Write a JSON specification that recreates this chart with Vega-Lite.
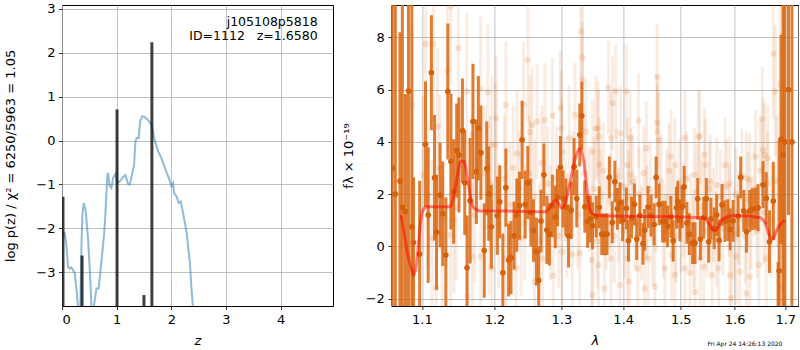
{
"$schema": "https://vega.github.io/schema/vega-lite/v6.json",
"padding": {"left": 4, "top": 2, "right": 0, "bottom": 0},
"config": {
 "font": "DejaVu Sans",
 "view": {"stroke": "black", "strokeWidth": 1},
 "axis": {"labelFont": "DejaVu Sans", "labelFontSize": 13, "labelColor": "black", "tickColor": "black", "tickSize": 3.5, "tickWidth": 0.8, "domain": false, "gridColor": "#b0b0b0", "gridWidth": 0.8, "titleFont": "DejaVu Sans", "titleFontSize": 13, "titleFontWeight": "normal", "titleColor": "black", "labelPadding": 3.5}
},
"datasets": {
 "pz": [
  {"z":0.035,"y":-2.2},{"z":0.045,"y":-2.08},{"z":0.08,"y":-2.37},{"z":0.11,"y":-2.87},{"z":0.141,"y":-2.92},{"z":0.172,"y":-2.89},{"z":0.2,"y":-2.95},{"z":0.233,"y":-3.02},{"z":0.263,"y":-3.37},{"z":0.293,"y":-3.78},{"z":0.31,"y":-6},{"z":0.33,"y":-6},{"z":0.337,"y":-3.77},{"z":0.355,"y":-2.45},{"z":0.373,"y":-1.69},{"z":0.397,"y":-1.42},{"z":0.434,"y":-1.61},{"z":0.476,"y":-2.22},{"z":0.52,"y":-3.21},{"z":0.538,"y":-3.77},{"z":0.555,"y":-6},{"z":0.575,"y":-6},{"z":0.586,"y":-3.76},{"z":0.63,"y":-3.37},{"z":0.672,"y":-3.37},{"z":0.721,"y":-2.76},{"z":0.77,"y":-2.15},{"z":0.794,"y":-1.69},{"z":0.831,"y":-0.78},{"z":0.843,"y":-0.74},{"z":0.874,"y":-1.04},{"z":0.904,"y":-1.08},{"z":0.935,"y":-0.85},{"z":0.977,"y":-0.76},{"z":1.014,"y":-0.97},{"z":1.057,"y":-0.93},{"z":1.118,"y":-0.83},{"z":1.16,"y":-0.79},{"z":1.209,"y":-0.99},{"z":1.24,"y":-1.0},{"z":1.282,"y":-0.78},{"z":1.319,"y":-0.55},{"z":1.344,"y":-0.02},{"z":1.368,"y":0.06},{"z":1.405,"y":0.06},{"z":1.429,"y":0.44},{"z":1.465,"y":0.55},{"z":1.502,"y":0.55},{"z":1.564,"y":0.48},{"z":1.637,"y":0.37},{"z":1.685,"y":0.06},{"z":1.758,"y":-0.24},{"z":1.82,"y":-0.4},{"z":1.894,"y":-0.66},{"z":1.954,"y":-0.85},{"z":2.004,"y":-1.04},{"z":2.033,"y":-0.97},{"z":2.051,"y":-1.2},{"z":2.095,"y":-1.27},{"z":2.137,"y":-1.42},{"z":2.174,"y":-1.39},{"z":2.216,"y":-1.65},{"z":2.278,"y":-2.07},{"z":2.339,"y":-2.76},{"z":2.37,"y":-3.37},{"z":2.394,"y":-3.76},{"z":2.42,"y":-6}
 ],
 "bars": [{"z":0.018,"y":-1.28},{"z":0.367,"y":-2.62},{"z":1.007,"y":0.71},{"z":1.5,"y":-3.52},{"z":1.645,"y":2.24}],
 "lab": [{"z":4.678,"y":2.71,"t":"j105108p5818"},{"z":4.678,"y":2.38,"t":"ID=1112\u00a0\u00a0\u00a0z=1.6580"}],
 "main": [
  {"l":1.0615,"f":3,"e":12},{"l":1.0655,"f":2,"e":10},{"l":1.0714,"f":2.5,"e":5.7},{"l":1.0745,"f":1.5,"e":8},
  {"l":1.0785,"f":1.33,"e":4.5},{"l":1.0824,"f":5.95,"e":9},{"l":1.0868,"f":0.75,"e":9},{"l":1.089,"f":0.15,"e":2.5},{"l":1.097,"f":-0.29,"e":2.8},
  {"l":1.1047,"f":3.91,"e":2.4},{"l":1.1083,"f":1.2,"e":2.6},{"l":1.1125,"f":6.65,"e":2.2},{"l":1.1167,"f":2.63,"e":2.4},{"l":1.1194,"f":0.54,"e":2.2},{"l":1.1242,"f":1.97,"e":2.0},{"l":1.1278,"f":1.25,"e":2.0},{"l":1.132,"f":-0.33,"e":2.2},{"l":1.1347,"f":5.93,"e":2.6},{"l":1.1389,"f":3.25,"e":2.6},{"l":1.1426,"f":2.1,"e":2.0},{"l":1.1468,"f":3.67,"e":1.8},{"l":1.15,"f":3.5,"e":2.2},{"l":1.1547,"f":4.43,"e":2.0},{"l":1.1579,"f":2.44,"e":2.0},{"l":1.1611,"f":-0.82,"e":2.0},{"l":1.1653,"f":1.75,"e":2.4},{"l":1.1694,"f":4.78,"e":2.2},{"l":1.1742,"f":2.86,"e":2.0},{"l":1.1769,"f":4.52,"e":2.0},{"l":1.1806,"f":3.59,"e":1.8},{"l":1.1853,"f":-0.16,"e":1.8},{"l":1.1889,"f":2.98,"e":1.8},{"l":1.1917,"f":2.02,"e":1.8},{"l":1.1954,"f":0.75,"e":1.6},
  {"l":1.204,"f":1.18,"e":1.5},{"l":1.2075,"f":1.71,"e":1.4},{"l":1.212,"f":-1.01,"e":1.5},{"l":1.2164,"f":2.25,"e":1.5},{"l":1.2204,"f":-0.52,"e":1.4},{"l":1.2239,"f":-0.43,"e":1.4},{"l":1.2284,"f":0.41,"e":1.3},{"l":1.2324,"f":1.2,"e":1.4},{"l":1.2364,"f":1.56,"e":1.3},{"l":1.2403,"f":4.08,"e":1.5},{"l":1.2448,"f":1.6,"e":1.3},{"l":1.2488,"f":2.44,"e":1.4},{"l":1.2533,"f":1.3,"e":1.3},{"l":1.2573,"f":0.61,"e":1.2},{"l":1.2618,"f":-0.2,"e":1.3},{"l":1.2652,"f":-1.3,"e":1.3},{"l":1.2687,"f":0.97,"e":1.2},{"l":1.2731,"f":2.74,"e":1.2},{"l":1.2776,"f":0.63,"e":1.3},{"l":1.2816,"f":0.47,"e":1.2},{"l":1.2861,"f":1.55,"e":1.2},{"l":1.2906,"f":1.13,"e":1.2},{"l":1.294,"f":1.87,"e":1.1},{"l":1.2985,"f":3.03,"e":1.2},{"l":1.3027,"f":1.82,"e":1.1},{"l":1.307,"f":1.5,"e":1.1},{"l":1.3113,"f":0.4,"e":1.2},{"l":1.3156,"f":1.38,"e":1.1},{"l":1.32,"f":3.05,"e":1.1},{"l":1.3242,"f":1.83,"e":1.1},{"l":1.329,"f":4.27,"e":1.2},{"l":1.3323,"f":5.0,"e":1.3},{"l":1.3371,"f":1.52,"e":1.0},{"l":1.3415,"f":0.95,"e":1.0},{"l":1.3458,"f":1.05,"e":0.9},{"l":1.3495,"f":0.79,"e":0.9},
  {"l":1.3555,"f":1.14,"e":0.8},{"l":1.3603,"f":1.5,"e":0.8},{"l":1.3645,"f":0.47,"e":0.8},{"l":1.3689,"f":0.46,"e":0.8},{"l":1.3732,"f":0.47,"e":0.8},{"l":1.3769,"f":2.64,"e":0.8},{"l":1.3818,"f":0.92,"e":0.8},{"l":1.3861,"f":2.48,"e":0.8},{"l":1.3903,"f":1.44,"e":0.8},{"l":1.3947,"f":1.66,"e":0.8},{"l":1.399,"f":1.0,"e":0.8},{"l":1.4053,"f":1.46,"e":0.8},{"l":1.4088,"f":0.22,"e":0.8},{"l":1.414,"f":1.1,"e":0.8},{"l":1.4189,"f":1.61,"e":0.8},{"l":1.4229,"f":0.28,"e":0.8},{"l":1.4282,"f":1.18,"e":0.8},{"l":1.4335,"f":0.1,"e":0.8},{"l":1.4365,"f":0.63,"e":0.8},{"l":1.4423,"f":1.51,"e":0.8},{"l":1.4476,"f":1.18,"e":0.8},{"l":1.4529,"f":0.84,"e":0.8},{"l":1.4564,"f":2.64,"e":0.8},{"l":1.4617,"f":1.61,"e":0.8},{"l":1.4677,"f":0.95,"e":0.8},{"l":1.4723,"f":0.95,"e":0.8},{"l":1.4765,"f":0.77,"e":0.8},{"l":1.4823,"f":1.13,"e":0.8},{"l":1.4864,"f":0.22,"e":0.8},{"l":1.4924,"f":1.48,"e":0.8},{"l":1.4947,"f":1.71,"e":0.8},{"l":1.4985,"f":1.0,"e":0.8},{"l":1.5024,"f":1.51,"e":0.8},{"l":1.5061,"f":2.28,"e":0.8},{"l":1.511,"f":0.9,"e":0.8},{"l":1.5153,"f":0.47,"e":0.8},{"l":1.5215,"f":0.13,"e":0.8},{"l":1.5258,"f":0.13,"e":0.8},{"l":1.5308,"f":1.82,"e":0.8},{"l":1.5356,"f":0.28,"e":0.8},{"l":1.5418,"f":1.1,"e":0.8},{"l":1.5466,"f":1.82,"e":0.8},{"l":1.551,"f":0.18,"e":0.8},{"l":1.5552,"f":1.06,"e":0.8},{"l":1.5613,"f":0.69,"e":0.8},{"l":1.566,"f":1.2,"e":0.8},{"l":1.5705,"f":0.23,"e":0.8},{"l":1.576,"f":1.59,"e":0.8},{"l":1.5816,"f":0.97,"e":0.8},{"l":1.5871,"f":1.01,"e":0.8},{"l":1.5915,"f":0.65,"e":0.8},{"l":1.597,"f":0.98,"e":0.8},{"l":1.6066,"f":1.16,"e":0.8},{"l":1.6117,"f":2.64,"e":0.8},{"l":1.6175,"f":1.36,"e":0.8},{"l":1.6228,"f":0.56,"e":0.8},{"l":1.6292,"f":1.36,"e":0.8},{"l":1.6344,"f":1.43,"e":0.8},{"l":1.6403,"f":1.45,"e":0.8},{"l":1.6455,"f":1.48,"e":0.9},{"l":1.6552,"f":2.36,"e":0.9},{"l":1.6617,"f":1.84,"e":1.0},{"l":1.6681,"f":0.18,"e":1.2},{"l":1.6759,"f":1.74,"e":1.5},{"l":1.6876,"f":-0.93,"e":5},{"l":1.6915,"f":4.1,"e":4},
  {"l":1.6855,"f":-3.0,"e":2.4},{"l":1.6955,"f":3.5,"e":6},{"l":1.699,"f":4,"e":12},{"l":1.7066,"f":6,"e":4.8},{"l":1.7137,"f":4,"e":12}
 ],
 "faint": [
  {"l":1.0873,"f":5.42,"e":3},{"l":1.1014,"f":2.74,"e":3},{"l":1.1051,"f":7.75,"e":3},{"l":1.1135,"f":0.31,"e":3},{"l":1.1153,"f":7.75,"e":3},{"l":1.119,"f":-1.58,"e":3},{"l":1.1208,"f":4.59,"e":3},{"l":1.127,"f":-0.08,"e":2.8},{"l":1.1339,"f":6.72,"e":3},{"l":1.1385,"f":9.18,"e":3},{"l":1.1385,"f":0.44,"e":2.8},{"l":1.143,"f":1.01,"e":2.8},{"l":1.149,"f":7.59,"e":3},{"l":1.1607,"f":5.93,"e":3},{"l":1.1617,"f":-1.89,"e":2.8},{"l":1.1685,"f":4.27,"e":2.8},{"l":1.1685,"f":-0.39,"e":2.8},{"l":1.1801,"f":6.03,"e":2.8},{"l":1.1801,"f":-0.39,"e":2.6},{"l":1.1903,"f":5.9,"e":2.6},{"l":1.1917,"f":0.75,"e":2.6},{"l":1.194,"f":2.41,"e":2.6},{"l":1.1964,"f":3.89,"e":2.6},{"l":1.1964,"f":-0.84,"e":2.6},{"l":1.2015,"f":3.89,"e":2.4},{"l":1.2025,"f":4.9,"e":2.4},{"l":1.2164,"f":5.42,"e":2.4},{"l":1.2164,"f":-0.46,"e":2.4},{"l":1.2313,"f":-0.84,"e":2.4},{"l":1.2328,"f":3.56,"e":2.4},{"l":1.2388,"f":0.31,"e":2.2},{"l":1.2424,"f":5.42,"e":2.4},{"l":1.2488,"f":7.14,"e":2.4},{"l":1.2522,"f":4.37,"e":2.2},{"l":1.2552,"f":4.65,"e":2.2},{"l":1.2588,"f":-1.35,"e":2.2},{"l":1.2627,"f":4.78,"e":2.2},{"l":1.2712,"f":-0.46,"e":2.2},{"l":1.2746,"f":4.84,"e":2.2},{"l":1.2861,"f":5.0,"e":2.2},{"l":1.2876,"f":-1.12,"e":2.2},{"l":1.2985,"f":5.31,"e":2.2},{"l":1.3,"f":4.52,"e":2.2},{"l":1.3011,"f":3.63,"e":2},{"l":1.3011,"f":-0.2,"e":2},{"l":1.312,"f":4.14,"e":2},{"l":1.3172,"f":-0.31,"e":2},{"l":1.3216,"f":5.03,"e":2},{"l":1.329,"f":-0.27,"e":2},{"l":1.3306,"f":8.23,"e":2.2},{"l":1.3333,"f":7.23,"e":2.2},{"l":1.3333,"f":6.38,"e":2.2},{"l":1.3387,"f":4.39,"e":2},{"l":1.3484,"f":-0.52,"e":2},{"l":1.3495,"f":3.63,"e":2},{"l":1.3495,"f":-1.86,"e":2},{"l":1.3548,"f":4.52,"e":2},{"l":1.3581,"f":4.52,"e":1.8},{"l":1.3592,"f":4.2,"e":1.8},{"l":1.3592,"f":-0.71,"e":1.8},{"l":1.3608,"f":3.12,"e":1.8},{"l":1.3689,"f":-1.61,"e":1.8},{"l":1.3753,"f":6.08,"e":1.8},{"l":1.3797,"f":4.14,"e":1.8},{"l":1.3797,"f":-0.46,"e":1.8},{"l":1.3823,"f":5.48,"e":1.8},{"l":1.3876,"f":5.93,"e":1.8},{"l":1.3947,"f":-1.48,"e":1.8},{"l":1.3958,"f":4.33,"e":1.8},{"l":1.4053,"f":5.93,"e":1.8},{"l":1.4071,"f":3.12,"e":1.8},{"l":1.4071,"f":-0.46,"e":1.8},{"l":1.41,"f":-1.35,"e":1.8},{"l":1.4118,"f":4.14,"e":1.8},{"l":1.413,"f":2.74,"e":1.8},{"l":1.4247,"f":-0.84,"e":1.8},{"l":1.4259,"f":4.82,"e":1.8},{"l":1.4365,"f":-1.61,"e":1.8},{"l":1.4394,"f":3.75,"e":1.8},{"l":1.4423,"f":-0.46,"e":1.8},{"l":1.4541,"f":-1.54,"e":1.8},{"l":1.4582,"f":6.5,"e":2},{"l":1.4582,"f":4.75,"e":1.8},{"l":1.4582,"f":4.39,"e":1.8},{"l":1.4611,"f":4.08,"e":1.8},{"l":1.4717,"f":-0.84,"e":1.8},{"l":1.4823,"f":3.44,"e":1.8},{"l":1.4835,"f":-0.33,"e":1.8},{"l":1.4894,"f":3.12,"e":1.8},{"l":1.4894,"f":-1.1,"e":1.8},{"l":1.5074,"f":4.16,"e":1.8},{"l":1.5074,"f":-0.84,"e":1.8},{"l":1.5166,"f":-1.0,"e":1.8},{"l":1.5245,"f":2.74,"e":1.8},{"l":1.5258,"f":-1.74,"e":1.8},{"l":1.532,"f":4.2,"e":1.8},{"l":1.5344,"f":4.2,"e":1.8},{"l":1.5356,"f":-0.46,"e":1.8},{"l":1.5418,"f":-0.78,"e":1.8},{"l":1.5429,"f":3.5,"e":1.8},{"l":1.5448,"f":3.12,"e":1.8},{"l":1.554,"f":2.48,"e":1.8},{"l":1.5571,"f":-1.1,"e":1.8},{"l":1.5663,"f":2.35,"e":1.8},{"l":1.5694,"f":-0.84,"e":1.8},{"l":1.5816,"f":3.12,"e":1.8},{"l":1.5908,"f":2.41,"e":1.8},{"l":1.5908,"f":-1.1,"e":1.8},{"l":1.5939,"f":-1.97,"e":1.8},{"l":1.6033,"f":-0.39,"e":1.8},{"l":1.6097,"f":-0.97,"e":1.8},{"l":1.6228,"f":2.6,"e":1.8},{"l":1.6228,"f":-1.8,"e":1.8},{"l":1.6292,"f":2.53,"e":1.8},{"l":1.6292,"f":-1.16,"e":1.8},{"l":1.6409,"f":3.44,"e":1.8},{"l":1.6474,"f":-0.71,"e":1.8},{"l":1.6539,"f":4.88,"e":2},{"l":1.6552,"f":3.69,"e":2},{"l":1.6584,"f":3.5,"e":2},{"l":1.6617,"f":-0.46,"e":2},{"l":1.6649,"f":3.37,"e":2},{"l":1.6759,"f":7.37,"e":2.5},{"l":1.6798,"f":5.93,"e":2.5},{"l":1.6929,"f":-1.57,"e":2.5},
  {"l":1.108,"f":2.0,"e":2.8},{"l":1.124,"f":3.0,"e":2.8},{"l":1.146,"f":1.5,"e":2.8},{"l":1.172,"f":1.2,"e":2.6},{"l":1.186,"f":2.8,"e":2.6},{"l":1.206,"f":0.8,"e":2.4},{"l":1.214,"f":2.6,"e":2.4},{"l":1.222,"f":1.6,"e":2.4},{"l":1.227,"f":3.0,"e":2.4},{"l":1.236,"f":2.2,"e":2.2},{"l":1.244,"f":0.9,"e":2.2},{"l":1.251,"f":2.8,"e":2.2},{"l":1.259,"f":1.9,"e":2.2},{"l":1.266,"f":0.2,"e":2.2},{"l":1.27,"f":3.2,"e":2.2},{"l":1.279,"f":2.4,"e":2.2},{"l":1.283,"f":0.9,"e":2.2},{"l":1.292,"f":2.6,"e":2},{"l":1.296,"f":0.4,"e":2},{"l":1.306,"f":2.2,"e":2},{"l":1.309,"f":0.8,"e":2},{"l":1.318,"f":2.4,"e":2},{"l":1.326,"f":1.2,"e":2},{"l":1.336,"f":2.8,"e":2},{"l":1.344,"f":1.8,"e":2},{"l":1.352,"f":2.2,"e":2},{"l":1.357,"f":0.2,"e":1.8},{"l":1.363,"f":1.9,"e":1.8},{"l":1.367,"f":2.9,"e":1.8},{"l":1.372,"f":0.9,"e":1.8},{"l":1.378,"f":1.7,"e":1.8},{"l":1.385,"f":0.4,"e":1.8},{"l":1.389,"f":2.7,"e":1.8},{"l":1.392,"f":1.2,"e":1.8},{"l":1.398,"f":2.3,"e":1.8},{"l":1.402,"f":0.6,"e":1.8},{"l":1.409,"f":1.9,"e":1.8},{"l":1.416,"f":2.5,"e":1.8},{"l":1.42,"f":0.9,"e":1.8},{"l":1.427,"f":2.0,"e":1.8},{"l":1.431,"f":0.5,"e":1.8},{"l":1.435,"f":2.8,"e":1.8},{"l":1.44,"f":1.3,"e":1.8},{"l":1.446,"f":2.2,"e":1.8},{"l":1.45,"f":0.3,"e":1.8},{"l":1.456,"f":1.6,"e":1.8},{"l":1.465,"f":2.5,"e":1.8},{"l":1.469,"f":0.6,"e":1.8},{"l":1.475,"f":1.9,"e":1.8},{"l":1.479,"f":2.9,"e":1.8},{"l":1.486,"f":1.2,"e":1.8},{"l":1.491,"f":0.4,"e":1.8},{"l":1.497,"f":2.3,"e":1.8},{"l":1.5,"f":0.8,"e":1.8},{"l":1.505,"f":1.4,"e":1.8},{"l":1.511,"f":2.6,"e":1.8},{"l":1.518,"f":1.0,"e":1.8},{"l":1.523,"f":0.2,"e":1.8},{"l":1.529,"f":2.1,"e":1.8},{"l":1.538,"f":1.5,"e":1.8},{"l":1.548,"f":0.6,"e":1.8},{"l":1.552,"f":2.2,"e":1.8},{"l":1.56,"f":1.2,"e":1.8},{"l":1.565,"f":0.3,"e":1.8},{"l":1.573,"f":1.9,"e":1.8},{"l":1.578,"f":0.7,"e":1.8},{"l":1.585,"f":2.3,"e":1.8},{"l":1.59,"f":1.4,"e":1.8},{"l":1.598,"f":0.5,"e":1.8},{"l":1.603,"f":2.0,"e":1.8},{"l":1.608,"f":1.1,"e":1.8},{"l":1.614,"f":2.7,"e":1.8},{"l":1.62,"f":0.4,"e":1.8},{"l":1.626,"f":1.8,"e":1.8},{"l":1.632,"f":0.9,"e":1.8},{"l":1.638,"f":2.2,"e":1.8},{"l":1.643,"f":0.6,"e":1.8},{"l":1.65,"f":2.9,"e":2},{"l":1.657,"f":1.3,"e":2},{"l":1.664,"f":2.4,"e":2},{"l":1.672,"f":1.0,"e":2.2},{"l":1.683,"f":2.5,"e":2.5},{"l":1.69,"f":6.2,"e":3}
 ],
 "model": [
  {"l":1.0728,"f":1.2},{"l":1.0772,"f":0.44},{"l":1.0815,"f":-0.33},{"l":1.086,"f":-0.84},{"l":1.089,"f":-1.1},{"l":1.0926,"f":-0.71},{"l":1.0957,"f":0.18},{"l":1.0983,"f":0.95},{"l":1.1014,"f":1.39},{"l":1.107,"f":1.52},{"l":1.12,"f":1.52},{"l":1.1385,"f":1.52},{"l":1.143,"f":1.97},{"l":1.1478,"f":2.74},{"l":1.1524,"f":3.27},{"l":1.157,"f":3.25},{"l":1.1617,"f":2.6},{"l":1.1662,"f":1.84},{"l":1.1708,"f":1.46},{"l":1.1801,"f":1.36},{"l":1.2185,"f":1.36},{"l":1.2484,"f":1.33},{"l":1.2757,"f":1.33},{"l":1.2831,"f":1.52},{"l":1.2906,"f":1.78},{"l":1.2955,"f":1.65},{"l":1.3006,"f":1.46},{"l":1.3075,"f":1.78},{"l":1.3139,"f":2.48},{"l":1.322,"f":3.37},{"l":1.329,"f":3.75},{"l":1.3355,"f":3.25},{"l":1.3409,"f":2.1},{"l":1.3462,"f":1.33},{"l":1.3543,"f":1.2},{"l":1.3732,"f":1.16},{"l":1.4881,"f":1.14},{"l":1.5429,"f":1.1},{"l":1.5521,"f":0.84},{"l":1.5613,"f":0.59},{"l":1.5694,"f":0.75},{"l":1.5768,"f":1.05},{"l":1.5982,"f":1.18},{"l":1.6501,"f":1.1},{"l":1.6598,"f":0.88},{"l":1.6695,"f":0.37},{"l":1.6748,"f":0.28},{"l":1.6812,"f":0.56},{"l":1.689,"f":0.82},{"l":1.6987,"f":1.01}
 ],
 "foot": [{"l":1.6198,"f":-3.72,"t":"Fri Apr 24 14:26:13 2020"}]
},
"spacing": 58.4,
"bounds": "flush",
"hconcat": [
 {
  "width": 271, "height": 301,
  "layer": [
   {"data": {"name": "pz"}, "mark": {"type": "line", "color": "#1f77b4", "opacity": 0.5, "strokeWidth": 2, "clip": true},
    "encoding": {
     "x": {"field": "z", "type": "quantitative", "title": "z", "scale": {"domain": [0, 4.96], "nice": false, "zero": false}, "axis": {"values": [0,1,2,3,4], "titleFontStyle": "italic", "grid": true, "titlePadding": 8}},
     "y": {"field": "y", "type": "quantitative", "title": "log p(z) / χ² = 6250/5963 = 1.05", "scale": {"domain": [-3.77, 3.09], "nice": false, "zero": false}, "axis": {"values": [-3,-2,-1,0,1,2,3], "grid": true, "titlePadding": 18}}
    }},
   {"data": {"name": "bars"}, "mark": {"type": "rule", "color": "black", "opacity": 0.75, "strokeWidth": 3, "clip": true},
    "encoding": {"x": {"field": "z", "type": "quantitative", "title": "z"}, "y": {"field": "y", "type": "quantitative", "title": "log p(z) / χ² = 6250/5963 = 1.05"}, "y2": {"datum": -3.77}}},
   {"data": {"name": "lab"}, "mark": {"type": "text", "align": "right", "baseline": "middle", "fontSize": 12.5, "font": "DejaVu Sans", "color": "black"},
    "encoding": {"x": {"field": "z", "type": "quantitative", "title": "z"}, "y": {"field": "y", "type": "quantitative", "title": "log p(z) / χ² = 6250/5963 = 1.05"}, "text": {"field": "t"}}}
  ]
 },
 {
  "width": 407, "height": 301,
  "layer": [
   {"data": {"name": "faint"}, "mark": {"type": "errorbar", "clip": true, "rule": {"color": "#d9660f", "opacity": 0.12, "strokeWidth": 3}},
    "encoding": {
     "x": {"field": "l", "type": "quantitative", "title": "λ", "scale": {"type": "log", "domain": [1.0605, 1.727], "nice": false}, "axis": {"values": [1.1,1.2,1.3,1.4,1.5,1.6,1.7], "format": ".1f", "titleFontStyle": "italic", "grid": true, "titlePadding": 8}},
     "y": {"field": "f", "type": "quantitative", "title": "fλ × 10⁻¹⁹", "scale": {"domain": [-2.28, 9.24], "nice": false, "zero": false}, "axis": {"values": [-2,0,2,4,6,8], "grid": true, "titlePadding": 10}},
     "yError": {"field": "e"}
    }},
   {"data": {"name": "faint"}, "mark": {"type": "point", "filled": true, "size": 40, "color": "#d9660f", "opacity": 0.16, "clip": true},
    "encoding": {"x": {"field": "l", "type": "quantitative", "title": "λ"}, "y": {"field": "f", "type": "quantitative", "title": "fλ × 10⁻¹⁹"}}},
   {"data": {"name": "main"}, "mark": {"type": "errorbar", "clip": true, "rule": {"color": "#d9660f", "opacity": 0.85, "strokeWidth": 3}},
    "encoding": {"x": {"field": "l", "type": "quantitative", "title": "λ"}, "y": {"field": "f", "type": "quantitative", "title": "fλ × 10⁻¹⁹"}, "yError": {"field": "e"}}},
   {"data": {"name": "main"}, "mark": {"type": "point", "filled": true, "size": 32, "color": "#d4620c", "opacity": 1, "clip": true},
    "encoding": {"x": {"field": "l", "type": "quantitative", "title": "λ"}, "y": {"field": "f", "type": "quantitative", "title": "fλ × 10⁻¹⁹"}}},
   {"data": {"name": "model"}, "mark": {"type": "line", "color": "red", "opacity": 0.5, "strokeWidth": 3, "interpolate": "monotone", "clip": true},
    "encoding": {"x": {"field": "l", "type": "quantitative", "title": "λ"}, "y": {"field": "f", "type": "quantitative", "title": "fλ × 10⁻¹⁹"}}},
   {"mark": {"type": "rule", "color": "black", "strokeWidth": 2, "strokeDash": [2, 3]},
    "encoding": {"y": {"datum": 0}}},
   {"data": {"name": "foot"}, "mark": {"type": "text", "fontSize": 6, "font": "DejaVu Sans", "color": "black", "align": "center", "baseline": "middle"},
    "encoding": {"x": {"field": "l", "type": "quantitative", "title": "λ"}, "y": {"field": "f", "type": "quantitative", "title": "fλ × 10⁻¹⁹"}, "text": {"field": "t"}}}
  ]
 }
]
}
